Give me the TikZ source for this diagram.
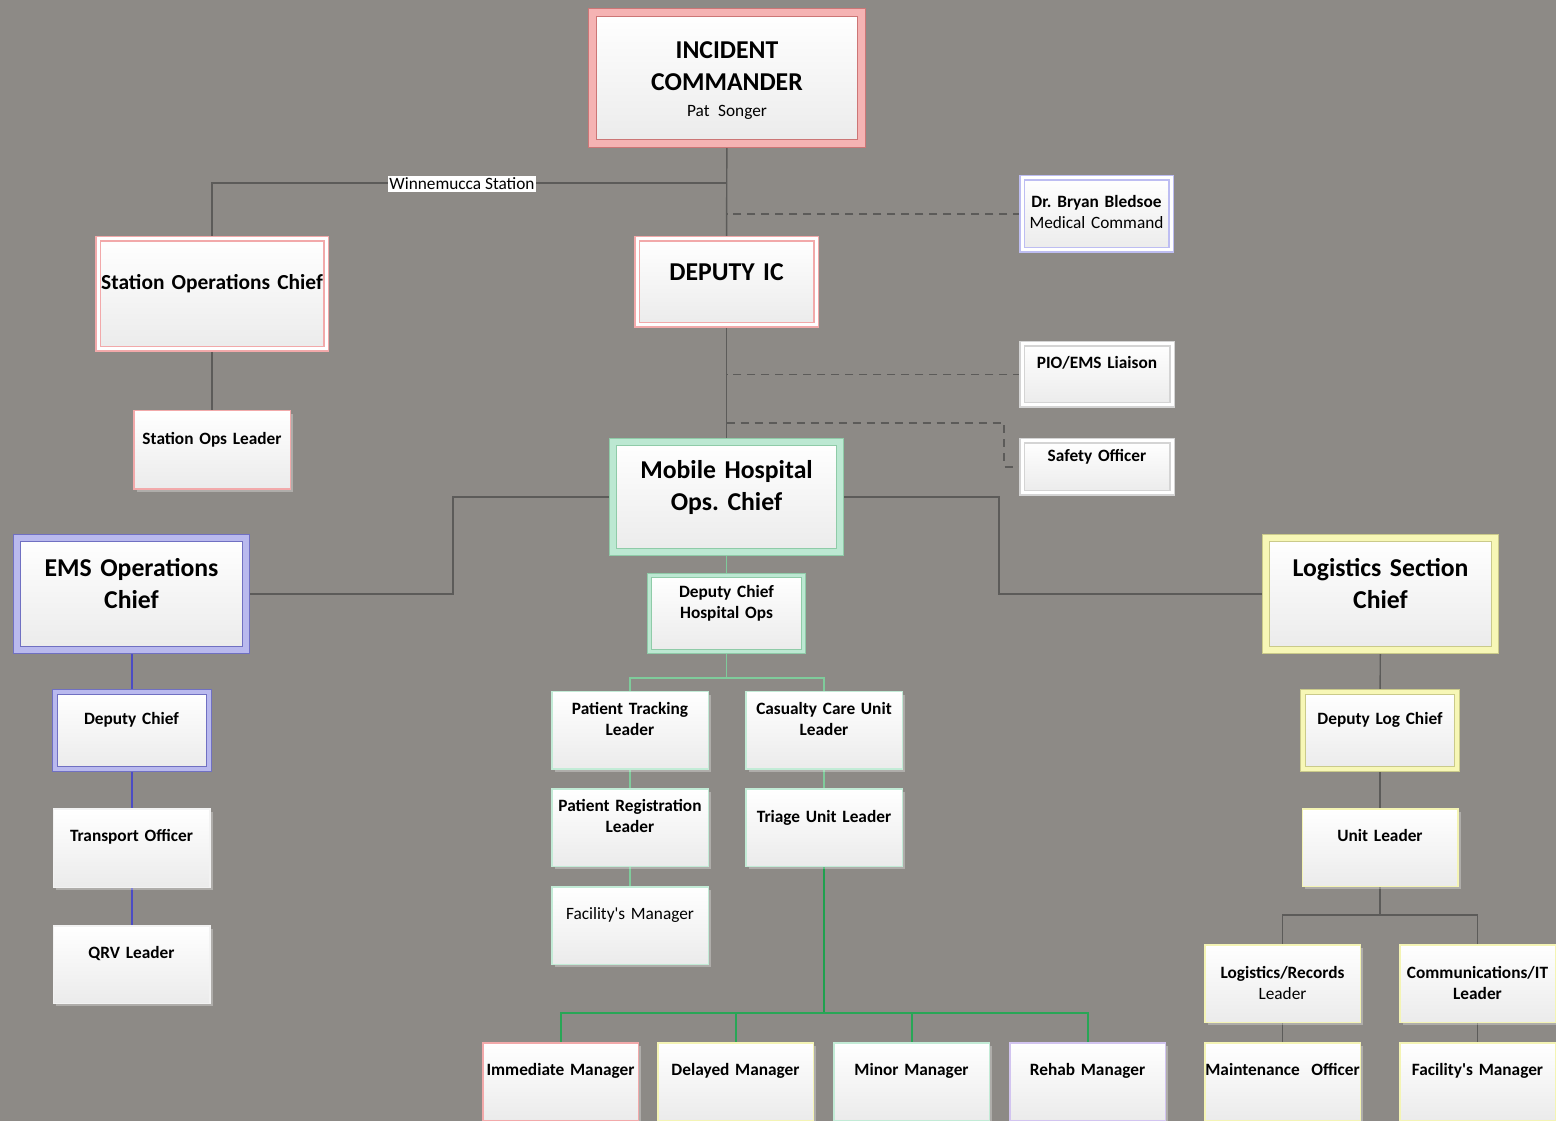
\documentclass[tikz,border=0pt]{standalone}
\usepackage{fontspec}
\setmainfont{Carlito}
\usetikzlibrary{shadows,backgrounds}
\definecolor{canvas}{RGB}{141,138,134}
\definecolor{wiregrey}{HTML}{5C5B59}
\definecolor{pinkline}{HTML}{F2A9AA}
\definecolor{pinkedge}{HTML}{CC7676}
\definecolor{pinkband}{HTML}{F5B3B3}
\definecolor{lilacline}{HTML}{BDBDF2}
\definecolor{lilacedge}{HTML}{7070C2}
\definecolor{lilacband}{HTML}{B9B9EE}
\definecolor{mintedge}{HTML}{8FCBA8}
\definecolor{mintband}{HTML}{BCE8D2}
\definecolor{mintline}{HTML}{C2EBD6}
\definecolor{lemonedge}{HTML}{CACA8A}
\definecolor{lemonband}{HTML}{F7F7B6}
\definecolor{lemonline}{HTML}{F4F4B4}
\definecolor{greyline}{HTML}{D4D4D4}
\definecolor{whiteline}{HTML}{F2F2F2}
\definecolor{rehabline}{HTML}{D2C4F0}
\definecolor{boxbot}{HTML}{EBEBEB}
\definecolor{hospgreen}{HTML}{7FCB9B}
\definecolor{triagegreen}{HTML}{1FA04E}
\definecolor{branchgreen}{HTML}{28A656}
\definecolor{emsblue}{HTML}{4C4CC4}
\newcommand\fntbig{\fontsize{18}{22}\selectfont\bfseries}
\newcommand\fntmid{\fontsize{15}{18}\selectfont\bfseries}
\newcommand\fntsmall{\fontsize{12.1}{14.7}\selectfont}
\frenchspacing

\begin{document}
\begin{tikzpicture}[x=0.7pt,y=-0.7pt,
  box/.style={rectangle,inner sep=0pt,align=center,top color=white,bottom color=boxbot,
    drop shadow={shadow xshift=2pt,shadow yshift=-2pt,fill=white,opacity=.3},font=\fntsmall\bfseries},
  wide/.style={text width=#1*0.7pt},
  tall/.style 2 args={text height=#1*0.7pt,text depth=(#2-#1)*0.7pt},
  band/.style 2 args={draw=#1edge,double=#1band,line width=0.7pt,double distance=#2*0.7pt},
  rim/.style={draw=#1line,double=white,line width=1.05pt,double distance=2.1pt},
  plainrim/.style={draw=#1line,line width=1.05pt},
  wire/.style={draw=wiregrey,line width=1pt},
  dashwire/.style={wire,dash pattern=on 5.6pt off 4.2pt},
  hosp/.style={draw=hospgreen,line width=1pt},
  triage/.style={draw=triagegreen,line width=1.4pt},
  branch/.style={draw=branchgreen,line width=1.4pt},
  emsline/.style={draw=emsblue,line width=1.4pt}]
\useasboundingbox (0,0) rectangle (1556,1121);

% command staff
\node[box,band={pink}{7},wide=269,tall={46.5}{131},font=\fntbig] (ic) at (727,78)
  {INCIDENT\\COMMANDER\\[-4pt]{\fntsmall\mdseries Pat Songer}};
\node[box,rim=pink,wide=228,tall={51}{110},font=\fntmid] (soc) at (212,294) {Station Operations Chief};
\node[box,rim=pink,wide=179,tall={42}{86},font=\fntbig] (dic) at (726.5,282) {DEPUTY IC};
\node[box,rim=lilac,wide=149,tall={29.5}{72}] (drb) at (1096.5,214) {Dr. Bryan Bledsoe\\\mdseries Medical Command};
\node[box,rim=grey,wide=150,tall={24.5}{61}] (pio) at (1097,374.5) {PIO/EMS Liaison};
\node[box,rim=grey,wide=150,tall={20.5}{52}] (saf) at (1097,467) {Safety Officer};
\node[box,plainrim=pink,wide=156.5,tall={33.75}{78.5}] (sol) at (212,450) {Station Ops Leader};

% sections
\node[box,band={mint}{6},wide=227,tall={37}{110},font=\fntbig] (mho) at (726.5,497) {Mobile Hospital\\Ops. Chief};
\node[box,band={mint}{3.5},wide=154,tall={22}{76}] (dch) at (726.5,613.5) {Deputy Chief\\Hospital Ops};
\node[box,band={lilac}{6},wide=229,tall={39}{112},font=\fntbig] (ems) at (131.5,594) {EMS Operations\\Chief};
\node[box,band={lemon}{6},wide=229,tall={39}{112},font=\fntbig] (lsc) at (1380.5,594) {Logistics Section\\Chief};

% EMS branch
\node[box,band={lilac}{4},wide=154,tall={32.5}{77}] (dce) at (131.5,730.5) {Deputy Chief};
\node[box,plainrim=white,wide=156.5,tall={32.75}{78.5}] (tro) at (131.5,848) {Transport Officer};
\node[box,plainrim=white,wide=156.5,tall={32.75}{77.5}] (qrv) at (131.5,964.5) {QRV Leader};

% hospital branch
\node[box,plainrim=mint,wide=156.5,tall={22.75}{77.5}] (ptl) at (630,730.5) {Patient Tracking\\Leader};
\node[box,plainrim=mint,wide=156.5,tall={22.75}{77.5}] (ccl) at (824,730.5) {Casualty Care Unit\\Leader};
\node[box,plainrim=mint,wide=156.5,tall={22.75}{77.5}] (prl) at (630,827.5) {Patient Registration\\Leader};
\node[box,plainrim=mint,wide=156.5,tall={33.75}{77.5}] (tul) at (824,827.5) {Triage Unit Leader};
\node[box,plainrim=mint,wide=156.5,tall={32.75}{77.5}] (fmh) at (630,925.5) {\mdseries Facility\textquotesingle s Manager};
\node[box,plainrim=pink,wide=155.5,tall={32.75}{77.5}] (imm) at (560.5,1081.5) {Immediate Manager};
\node[box,plainrim=lemon,wide=155.5,tall={32.75}{77.5}] (dlm) at (735.5,1081.5) {Delayed Manager};
\node[box,plainrim=mint,wide=155.5,tall={32.75}{77.5}] (mnm) at (911.5,1081.5) {Minor Manager};
\node[box,plainrim=rehab,wide=155.5,tall={32.75}{77.5}] (rhm) at (1087.5,1081.5) {Rehab Manager};

% logistics branch
\node[box,band={lemon}{4},wide=154,tall={32.5}{77}] (dlc) at (1380,730.5) {Deputy Log Chief};
\node[box,plainrim=lemon,wide=155.5,tall={32.75}{77.5}] (unl) at (1380,847.5) {Unit Leader};
\node[box,plainrim=lemon,wide=155.5,tall={33.75}{77.5}] (lrl) at (1282.5,983.5) {Logistics/Records\\\mdseries Leader};
\node[box,plainrim=lemon,wide=155.5,tall={33.75}{77.5}] (cit) at (1477.5,983.5) {Communications/IT\\Leader};
\node[box,plainrim=lemon,wide=155.5,tall={32.75}{77.5}] (mno) at (1282.5,1081.5) {Maintenance\ \ Officer};
\node[box,plainrim=lemon,wide=155.5,tall={32.75}{77.5}] (frm) at (1477.5,1081.5) {Facility\textquotesingle s Manager};

\begin{scope}[on background layer]
\fill[canvas] (0,0) rectangle (1556,1121);
\draw[wire] (ic) -- (dic);
\draw[wire] (dic) -- (mho);
\coordinate (wsplit) at (726.5,183);
\draw[wire] (wsplit) -| (soc.north);
\draw[wire] (soc) -- (sol);
\draw[dashwire] (drb.west) -- (drb.west -| dic.north);
\draw[dashwire] (pio.west) -- (pio.west -| dic.south);
\coordinate (safbend) at (1004,423);
\draw[dashwire] (dic.south |- safbend) -- (safbend) |- (saf.west);
% sections
\coordinate (emsbend) at (453,594);
\draw[wire] (mho.west) -| (emsbend) -- (ems.east);
\coordinate (logbend) at (999,594);
\draw[wire] (mho.east) -| (logbend) -- (lsc.west);
% EMS
\draw[emsline] (ems) -- (dce);
\draw[emsline] (dce) -- (tro);
\draw[emsline] (tro) -- (qrv);
% hospital
\draw[hosp] (mho) -- (dch);
\draw[hosp] (dch.south) -- ++(0,26) coordinate (hospsplit) -| (ptl.north);
\draw[hosp] (hospsplit) -| (ccl.north);
\draw[hosp] (ptl) -- (prl);
\draw[hosp] (prl) -- (fmh);
\draw[hosp] (ccl) -- (tul);
\draw[triage] (tul.south) -- ++(0,146) coordinate (trisplit);
\foreach \mgr in {imm,dlm,mnm,rhm}
  \draw[branch] (trisplit) -| (\mgr.north);
% logistics
\draw[wire] (lsc) -- (dlc);
\draw[wire] (dlc) -- (unl);
\draw[wire] (unl.south) -- ++(0,28) coordinate (logsplit) -| (lrl.north);
\draw[wire] (logsplit) -| (cit.north);
\draw[wire] (lrl) -- (mno);
\draw[wire] (cit) -- (frm);
\end{scope}
\node[fill=white,inner sep=1.2pt,font=\fntsmall] (wlab) at (462,184) {Winnemucca Station};
\end{tikzpicture}
\end{document}
